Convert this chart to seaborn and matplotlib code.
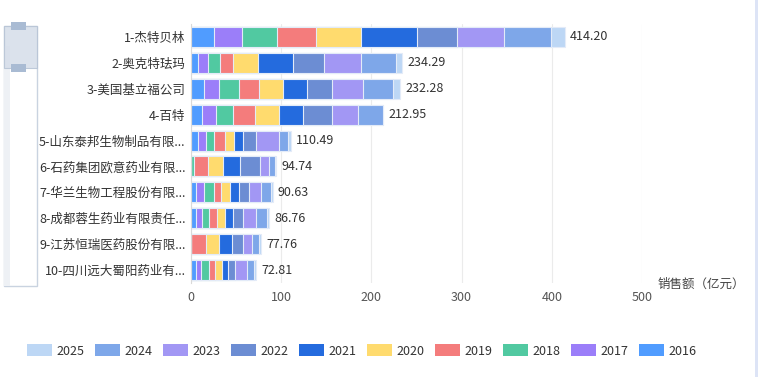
import numpy as np
import pandas as pd
import matplotlib
matplotlib.use("Agg")
import matplotlib.pyplot as plt
import seaborn as sns
from matplotlib.patches import Rectangle, Patch

sns.set_style("white")
plt.rcParams["font.family"] = ["Noto Sans CJK SC", "DejaVu Sans"]

# ====================== DATA ======================
companies = [
    "1-杰特贝林", "2-奥克特珐玛", "3-美国基立福公司", "4-百特",
    "5-山东泰邦生物制品有限...", "6-石药集团欧意药业有限...",
    "7-华兰生物工程股份有限...", "8-成都蓉生药业有限责任...",
    "9-江苏恒瑞医药股份有限...", "10-四川远大蜀阳药业有...",
]
years = ["2016", "2017", "2018", "2019", "2020", "2021", "2022", "2023", "2024", "2025"]

s2016 = [25.8, 8.1, 14.4, 12.5, 8.1, 0.0, 5.5, 5.5, 0.0, 5.5]
s2017 = [30.3, 11.1, 17.0, 14.8, 8.8, 0.0, 8.6, 6.7, 0.0, 5.9]
s2018 = [39.1, 12.9, 21.4, 19.5, 8.9, 3.0, 11.0, 8.1, 0.0, 8.5]
s2019 = [43.6, 14.4, 22.9, 23.7, 11.9, 16.2, 8.5, 8.8, 16.6, 6.7]
s2020 = [49.8, 28.0, 25.8, 27.3, 10.3, 16.2, 9.6, 8.2, 14.8, 7.4]
s2021 = [62.0, 38.8, 27.3, 26.6, 9.9, 19.2, 9.6, 9.5, 13.7, 7.3]
s2022 = [44.0, 34.3, 27.7, 32.1, 14.1, 22.1, 11.1, 11.1, 12.2, 7.4]
s2023 = [52.0, 41.0, 34.3, 28.8, 25.1, 9.3, 14.0, 13.7, 9.9, 13.0]
s2024 = [52.1, 38.8, 33.2, 27.65, 10.0, 7.3, 10.4, 12.9, 8.5, 8.1]
s2025 = [15.5, 6.9, 8.2, 0.0, 3.4, 1.4, 2.3, 2.2, 2.0, 2.8]
totals = [414.20, 234.29, 232.28, 212.95, 110.49, 94.74, 90.63, 86.76, 77.76, 72.81]

colors = {
    "2016": "#509CFF", "2017": "#9B7EF9", "2018": "#51C9A1", "2019": "#F47C7C",
    "2020": "#FFDB6E", "2021": "#246BDE", "2022": "#6C8DD3", "2023": "#A297F4",
    "2024": "#7EA7E9", "2025": "#BDD7F5",
}

df = pd.DataFrame(
    [s2016, s2017, s2018, s2019, s2020, s2021, s2022, s2023, s2024, s2025],
    index=years, columns=companies,
).T
cum = df.cumsum(axis=1)

# ====================== FIGURE ======================
fig = plt.figure(figsize=(7.58, 3.77), dpi=100)
ax = fig.add_axes([191 / 758, 1 - 283 / 377, (642 - 191) / 758, (283 - 24) / 377])

# stacked bars: draw cumulative totals from last year backwards
for yr in reversed(years):
    sns.barplot(x=cum[yr].values, y=companies, color=colors[yr], orient="h",
                width=0.77, edgecolor="#e3ebf8", linewidth=0.8, ax=ax, saturation=1)

for i, t in enumerate(totals):
    ax.text(cum["2025"].iloc[i] + 5.5, i, f"{t:.2f}", va="center", ha="left",
            fontsize=9, color="#333333")

ax.set_xlim(0, 500)
ax.set_ylim(9.5, -0.5)
ax.set_xticks([0, 100, 200, 300, 400, 500])
ax.xaxis.grid(True, color="#ebebeb", linewidth=0.8)
ax.set_axisbelow(True)
for sp in ["top", "right", "bottom"]:
    ax.spines[sp].set_visible(False)
ax.spines["left"].set_color("#d9d9d9")
ax.tick_params(axis="x", length=0, labelsize=9, labelcolor="#555555", pad=6)
ax.tick_params(axis="y", labelsize=9, labelcolor="#333333", pad=4)
ax.set_yticks(np.arange(-0.5, 10, 1), minor=True)
ax.tick_params(axis="y", which="major", length=0)
ax.tick_params(axis="y", which="minor", length=4, color="#d9d9d9")
ax.set_xlabel("")
ax.set_ylabel("")

fig.text(658 / 758, 1 - 284 / 377, "销售额（亿元）", fontsize=9, color="#444444",
         va="center", ha="left")

# data-zoom slider on the left
fig.patches.append(Rectangle((4 / 758, 1 - 286 / 377), 33 / 758, 260 / 377,
                             transform=fig.transFigure, facecolor="white",
                             edgecolor="#c9d3e0", linewidth=1))
fig.patches.append(Rectangle((4 / 758, 1 - 286 / 377), 6 / 758, 240 / 377,
                             transform=fig.transFigure, facecolor="#eef1f5",
                             edgecolor="none"))
fig.patches.append(Rectangle((4 / 758, 1 - 68 / 377), 33 / 758, 42 / 377,
                             transform=fig.transFigure, facecolor="#d7dfea",
                             edgecolor="#b8c5d6", linewidth=0.8, alpha=0.9))
for hy in (26, 68):
    fig.patches.append(Rectangle((11 / 758, 1 - (hy + 4) / 377), 15 / 758, 8 / 377,
                                 transform=fig.transFigure, facecolor="#a9bbd3",
                                 edgecolor="none"))
# right-edge border
fig.patches.append(Rectangle((755 / 758, 0), 3 / 758, 1, transform=fig.transFigure,
                             facecolor="#dde4f6", edgecolor="none"))

handles = [Patch(facecolor=colors[y], edgecolor="none") for y in reversed(years)]
leg = fig.legend(handles, list(reversed(years)), loc="center", ncol=10,
                 bbox_to_anchor=(362 / 758, 1 - 351 / 377), frameon=False,
                 fontsize=9, handlelength=2.0, handleheight=1.1,
                 handletextpad=0.35, columnspacing=0.85, labelcolor="#333333")

fig.savefig("out.png", dpi=100)
